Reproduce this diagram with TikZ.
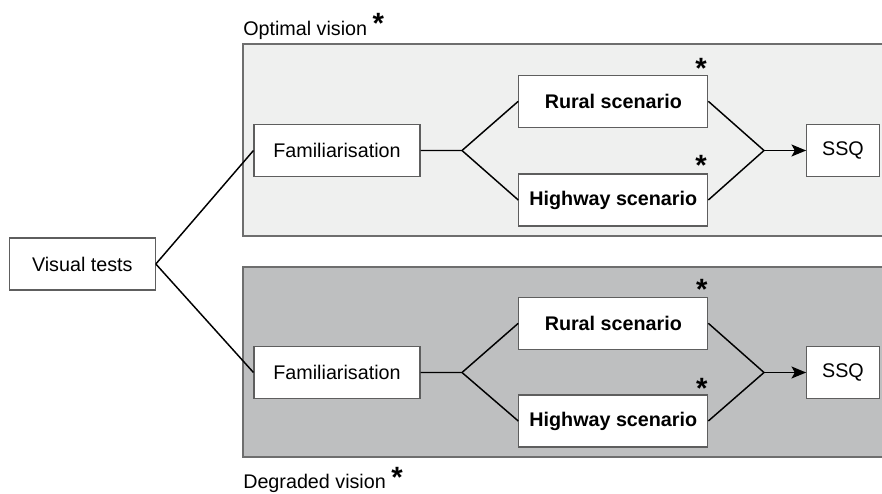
\documentclass[tikz,border=0pt]{standalone}
\usepackage{fontspec}
\setmainfont{Liberation Sans}
\usepackage{tikz}
\usetikzlibrary{arrows,arrows.meta,positioning}
\definecolor{boxgray}{HTML}{5E5E5E}
\definecolor{panelline}{HTML}{6E6E6E}
\definecolor{optimalfill}{HTML}{EFF0EF}
\definecolor{degradedfill}{HTML}{BEBFC0}
\tikzstyle{stage box}=[draw=boxgray, fill=white, line width=.8pt, inner sep=0pt, minimum height=39pt, font=\fontsize{14.8}{17}\selectfont]
\tikzstyle{scenario box}=[stage box, minimum width=141.75pt, font=\fontsize{14.8}{17}\selectfont\bfseries]
\tikzstyle{star mark}=[inner sep=0pt, anchor=base, font=\fontsize{22}{22}\selectfont\bfseries]
\tikzstyle{panel title}=[inner sep=0pt, anchor=base west, font=\fontsize{14.8}{17}\selectfont]
\tikzstyle{link}=[line width=1.1pt, black]
\newcommand{\titlestar}{\raisebox{.8pt}{\fontsize{22}{22}\selectfont\bfseries *}}

\begin{document}
\begin{tikzpicture}[>={Stealth[length=11pt,width=9pt,inset=2.5pt]}, x=.75pt, y=-.75pt]
    \useasboundingbox (0,0) rectangle (882,493);

    % Panels
    \fill[optimalfill] (243,44) rectangle (882,236);
    \draw[panelline, line width=1.1pt] (882,44) -- (243,44) -- (243,236) -- (882,236);
    \fill[degradedfill] (243,267) rectangle (882,457);
    \draw[panelline, line width=1.1pt] (882,267) -- (243,267) -- (243,457) -- (882,457);
    \draw (243,35) node[panel title] (optimal) {Optimal vision \titlestar};
    \draw (243,488.5) node[panel title] (degraded) {Degraded vision \titlestar};

    % Boxes
    \draw (82.3,264) node[stage box, minimum width=109.5pt] (tests) {Visual tests};
    \draw (337,150.5) node[stage box, minimum width=124.5pt] (famA) {Familiarisation};
    \draw (613.3,101.3) node[scenario box] (ruralA) {Rural scenario};
    \draw (613.3,200) node[scenario box] (highwayA) {Highway scenario};
    \draw (843,150.5) node[stage box, minimum width=54.5pt] (ssqA) {SSQ};
    \draw (337,372.5) node[stage box, minimum width=124.5pt] (famB) {Familiarisation};
    \draw (613.3,323.3) node[scenario box] (ruralB) {Rural scenario};
    \draw (613.3,421) node[scenario box] (highwayB) {Highway scenario};
    \draw (843,372.5) node[stage box, minimum width=54.5pt] (ssqB) {SSQ};

    % Stars
    \draw (701,78.7) node[star mark] (starRA) {*};
    \draw (701,175.4) node[star mark] (starHA) {*};
    \draw (701.7,299.7) node[star mark] (starRB) {*};
    \draw (701.7,398.1) node[star mark] (starHB) {*};

    % Branch points
    \coordinate (splitA) at (462,150.5);
    \coordinate (joinA) at (764,150.5);
    \coordinate (splitB) at (462,372.5);
    \coordinate (joinB) at (764,372.5);

    % Links
    \draw[link] (tests.east) -- (famA.west);
    \draw[link] (tests.east) -- (famB.west);
    \draw[link] (famA.east) -- (splitA) -- (ruralA.west);
    \draw[link] (splitA) -- (highwayA.west);
    \draw[link] (ruralA.east) -- (joinA) -- (highwayA.east);
    \draw[link,->] (joinA) -- (ssqA.west);
    \draw[link] (famB.east) -- (splitB) -- (ruralB.west);
    \draw[link] (splitB) -- (highwayB.west);
    \draw[link] (ruralB.east) -- (joinB) -- (highwayB.east);
    \draw[link,->] (joinB) -- (ssqB.west);

\end{tikzpicture}
\end{document}
